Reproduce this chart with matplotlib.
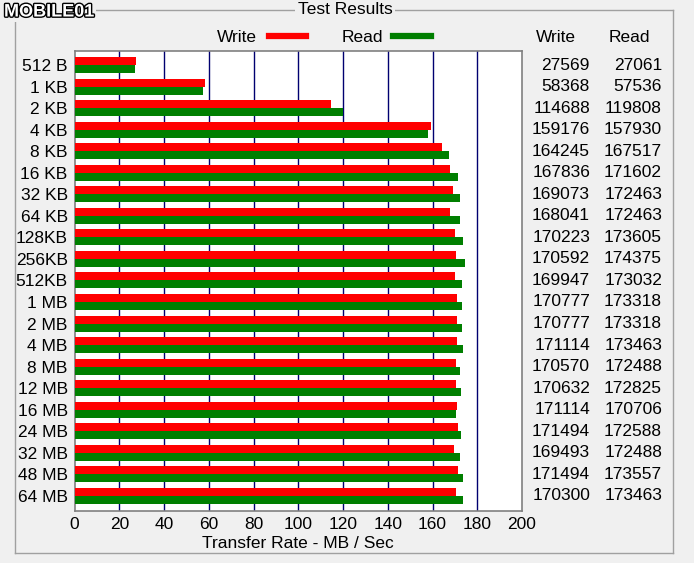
import matplotlib
matplotlib.use('Agg')
import matplotlib.pyplot as plt
import matplotlib.patheffects as pe
from matplotlib.transforms import blended_transform_factory
from matplotlib.lines import Line2D
import numpy as np

sizes = ['512 B', '1 KB', '2 KB', '4 KB', '8 KB', '16 KB', '32 KB', '64 KB',
         '128KB', '256KB', '512KB', '1 MB', '2 MB', '4 MB', '8 MB', '12 MB',
         '16 MB', '24 MB', '32 MB', '48 MB', '64 MB']
write_kb = [27569, 58368, 114688, 159176, 164245, 167836, 169073, 168041,
            170223, 170592, 169947, 170777, 170777, 171114, 170570, 170632,
            171114, 171494, 169493, 171494, 170300]
read_kb = [27061, 57536, 119808, 157930, 167517, 171602, 172463, 172463,
           173605, 174375, 173032, 173318, 173318, 173463, 172488, 172825,
           170706, 172588, 172488, 173557, 173463]
x_ticks = [0, 20, 40, 60, 80, 100, 120, 140, 160, 180, 200]

BG = '#f0f0f0'
RED = '#ff0000'
GREEN = '#007f00'
GRID = '#000070'

plt.rcParams['font.family'] = ['Liberation Sans', 'DejaVu Sans']

fig = plt.figure(figsize=(6.94, 5.63), dpi=100, facecolor=BG)
ax = fig.add_axes([0.1076, 0.0924, 0.6445, 0.817])
ax.set_facecolor('white')

y = np.arange(len(sizes))
h = 0.37
write_mb = np.array(write_kb) / 1000
read_mb = np.array(read_kb) / 1000
ax.barh(y - h / 2, write_mb, height=h, color=RED, zorder=3)
ax.barh(y + h / 2, read_mb, height=h, color=GREEN, zorder=3)

for t in x_ticks[1:-1]:
    ax.axvline(t, color=GRID, lw=1, zorder=1)

ax.set_xlim(0, 200)
ax.set_ylim(20.7, -0.65)
ax.set_xticks(x_ticks)
ax.set_xticklabels([str(t) for t in x_ticks], fontsize=12.5)
ax.set_yticks(y)
ax.set_yticklabels(sizes, fontsize=12.5)
ax.tick_params(length=0, pad=4)
ax.tick_params(axis='y', pad=5)
ax.set_xlabel('Transfer Rate - MB / Sec', fontsize=12.5, labelpad=3)
for s in ax.spines.values():
    s.set_color('#808080')
    s.set_linewidth(1.2)

# legend
fig.text(257 / 694, 1 - 37 / 563, 'Write', ha='right', va='center', fontsize=12.5)
fig.add_artist(Line2D([269 / 694, 306 / 694], [1 - 36 / 563] * 2, color=RED, lw=4.5))
fig.text(383 / 694, 1 - 37 / 563, 'Read', ha='right', va='center', fontsize=12.5)
fig.add_artist(Line2D([393 / 694, 431 / 694], [1 - 36 / 563] * 2, color=GREEN, lw=4.5))

# results table
fig.text(556 / 694, 1 - 37 / 563, 'Write', ha='center', va='center', fontsize=12.5)
fig.text(629 / 694, 1 - 37 / 563, 'Read', ha='center', va='center', fontsize=12.5)
tr = blended_transform_factory(fig.transFigure, ax.transData)
for i in range(len(sizes)):
    ax.text(590 / 694, i, str(write_kb[i]), transform=tr, ha='right', va='center',
            fontsize=12.5, clip_on=False)
    ax.text(662 / 694, i, str(read_kb[i]), transform=tr, ha='right', va='center',
            fontsize=12.5, clip_on=False)

# group box
L, R, T, B = 15 / 694, 673 / 694, 1 - 10 / 563, 1 - 553 / 563
for xs, ys in [([L, R], [T, T]), ([L, R], [B, B]), ([L, L], [B, T]), ([R, R], [B, T])]:
    fig.add_artist(Line2D(xs, ys, color='#a0a0a0', lw=1))
fig.text(345 / 694, T, 'Test Results', ha='center', va='center', fontsize=12.5,
         bbox=dict(facecolor=BG, edgecolor='none', pad=2))

# logo
fig.text(4 / 694, 1 - 12 / 563, 'MOBILE01', ha='left', va='center', fontsize=13,
         fontweight='bold', color='white',
         path_effects=[pe.withStroke(linewidth=2, foreground='black')],
         bbox=dict(facecolor=BG, edgecolor='none', pad=1))

fig.savefig('out.png', dpi=100, facecolor=BG)
